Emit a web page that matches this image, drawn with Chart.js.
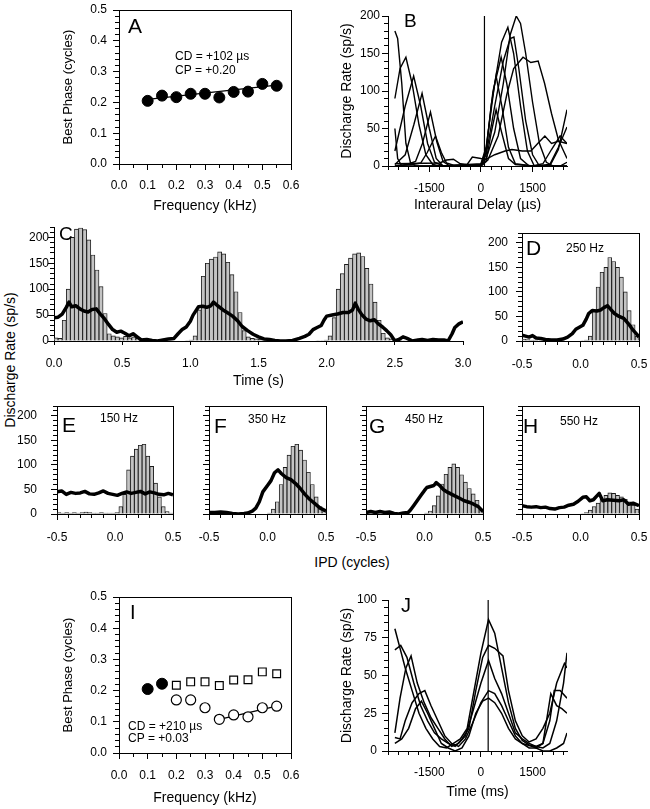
<!DOCTYPE html>
<html>
<head>
<meta charset="utf-8">
<title>Best phase and IPD tuning</title>
<script src="https://cdn.jsdelivr.net/npm/chart.js@4.4.1/dist/chart.umd.min.js"></script>
<style>
  html, body { margin: 0; padding: 0; background: #fff; }
  body { position: relative; width: 650px; height: 809px; overflow: hidden;
         font-family: "Liberation Sans", Arial, Helvetica, sans-serif; color: #000; }
  canvas { position: absolute; }
  .shared { position: absolute; font-size: 14px; white-space: nowrap; transform: translate(-50%, -50%); }
  .vertical { transform: translate(-50%, -50%) rotate(-90deg); }
</style>
</head>
<body>
<div class="shared vertical" style="left:10px; top:360px">Discharge Rate (sp/s)</div>
<div class="shared" style="left:352px; top:562px">IPD (cycles)</div>
<script>
// ---------- data ----------

// A and I: best phase vs frequency
const freqKHz = [0.1, 0.15, 0.2, 0.25, 0.3, 0.35, 0.4, 0.45, 0.5, 0.55];
const bestPhaseA = [0.205, 0.222, 0.217, 0.228, 0.228, 0.216, 0.234, 0.235, 0.26, 0.254];
const fitA = [[0.1, 0.21], [0.55, 0.256]];

const freqLowI = [0.1, 0.15];
const phaseFilledI = [0.205, 0.222];
const freqHighI = [0.2, 0.25, 0.3, 0.35, 0.4, 0.45, 0.5, 0.55];
const phaseSquaresI = [0.217, 0.228, 0.228, 0.216, 0.234, 0.235, 0.26, 0.254];
const phaseCirclesI = [0.17, 0.17, 0.145, 0.108, 0.122, 0.116, 0.145, 0.15];
const fitI = [[0.35, 0.108], [0.55, 0.15]];

// B: ITD curves (delay in us, rate in sp/s)
const b1 = [[-2500,0],[-2000,2],[-1750,4],[-1560,18],[-1320,40],[-1150,18],[-1000,4],[-800,1],[-500,0],[0,0],[150,6],[300,45],[440,75],[600,45],[800,10],[1000,2],[1500,0],[1800,3],[2050,22],[2300,40],[2500,30]];
const b2 = [[-2500,0],[-2150,2],[-1900,6],[-1700,30],[-1466,72],[-1280,32],[-1100,6],[-900,0],[0,0],[150,18],[300,82],[440,120],[600,82],[800,25],[1000,3],[1500,0],[2000,2],[2250,25],[2500,52]];
const b3 = [[-2500,2],[-2200,15],[-1950,55],[-1710,97],[-1500,50],[-1300,10],[-1100,0],[0,2],[150,22],[350,100],[586,145],[750,110],[950,50],[1150,10],[1400,0],[2000,0],[2250,22],[2500,75]];
const b4 = [[-2500,20],[-2200,80],[-1955,120],[-1750,80],[-1550,30],[-1350,5],[-1100,0],[0,3],[150,25],[400,110],[600,165],[782,185],[950,150],[1150,80],[1350,20],[1550,0],[2300,0],[2500,5]];
const b5 = [[-2500,90],[-2350,130],[-2180,145],[-2000,110],[-1800,55],[-1600,15],[-1400,2],[-1200,0],[0,2],[150,15],[400,80],[650,140],[850,170],[958,172],[1100,130],[1300,60],[1500,15],[1700,0],[2500,0]];
const b6 = [[-2500,180],[-2420,170],[-2300,110],[-2180,30],[-2050,5],[-1900,0],[0,0],[150,10],[400,45],[650,110],[850,175],[1026,200],[1150,190],[1300,150],[1500,85],[1700,30],[1900,5],[2100,0],[2500,0]];
const b7 = [[-2500,50],[-2420,10],[-2300,0],[0,0],[200,8],[500,40],[750,95],[950,130],[1222,145],[1450,138],[1662,140],[1850,110],[2050,70],[2250,35],[2400,20],[2500,10]];
const b8 = [[-2500,3],[-1200,4],[-1000,8],[-800,9],[-600,3],[-400,2],[-250,12],[0,10],[150,9],[400,15],[700,20],[900,22],[1200,20],[1450,20],[1650,30],[1857,40],[2050,30],[2250,33],[2500,30]];
const curvesB = [b1, b2, b3, b4, b5, b6, b7, b8];
const bestDelayB = 102;

// C: binaural beat response, histogram (0.03 s bins) and smoothed rate
const binWidthC = 0.03;
const countsC = [6,5,40,100,200,216,218,215,195,166,137,105,53,14,10,8,6,9,6,8,
                 5,3,2,1,1,0,0,0,1,0,0,0,1,2,10,60,125,150,158,162,
                 172,168,152,128,95,55,20,8,5,4,3,2,1,1,0,0,0,0,1,0,
                 0,0,0,0,1,1,2,10,45,100,130,148,160,168,170,163,140,110,75,40,
                 15,6,4,3,2,1,1,0,0,0,0,1,0,0,0,0,0,0,0,0];
const rateC = [[0,45],[0.03,46],[0.06,52],[0.09,65],[0.11,75],[0.13,66],[0.16,68],[0.19,62],[0.22,58],[0.25,56],
               [0.28,61],[0.31,62],[0.34,52],[0.37,43],[0.4,32],[0.43,22],[0.46,17],[0.49,19],[0.52,15],[0.55,10],
               [0.58,14],[0.61,8],[0.64,2],[0.68,3],[0.72,1],[0.76,0],[0.8,2],[0.84,4],[0.88,5],[0.91,14],
               [0.94,22],[0.97,27],[1.0,38],[1.02,50],[1.06,66],[1.09,67],[1.12,65],[1.15,68],[1.17,75],[1.2,68],
               [1.24,60],[1.27,55],[1.31,48],[1.35,38],[1.38,28],[1.42,20],[1.46,13],[1.5,8],[1.54,4],[1.58,3],
               [1.62,1],[1.66,0],[1.7,0],[1.75,1],[1.8,5],[1.84,9],[1.87,13],[1.9,22],[1.93,26],[1.96,30],
               [1.98,40],[2.0,48],[2.04,50],[2.08,52],[2.12,55],[2.16,55],[2.19,60],[2.21,73],[2.23,62],[2.26,50],
               [2.29,42],[2.32,39],[2.35,41],[2.38,33],[2.41,27],[2.44,20],[2.47,12],[2.5,0],[2.53,3],[2.56,8],
               [2.59,5],[2.63,0],[2.67,2],[2.7,3],[2.74,1],[2.78,3],[2.82,2],[2.86,2],[2.89,0],[2.92,14],
               [2.94,26],[2.97,33],[3.0,37]];

// D-H: period histograms (1/30 cycle bins) and static-IPD rate curves
const binWidthIPD = 1 / 30;
const countsD = [4,3,2,2,1,1,0,0,0,0,0,0,0,0,0,1,2,10,60,110,140,150,170,162,150,130,100,62,33,10];
const rateD = [[-0.5,12],[-0.47,10],[-0.44,8],[-0.41,11],[-0.38,6],[-0.34,5],[-0.3,3],[-0.25,2],[-0.2,2],[-0.15,4],
               [-0.11,8],[-0.07,15],[-0.04,24],[-0.01,28],[0.02,32],[0.05,45],[0.07,56],[0.1,62],[0.14,61],[0.17,63],
               [0.2,68],[0.23,72],[0.26,64],[0.29,56],[0.33,50],[0.37,46],[0.41,35],[0.45,22],[0.48,14],[0.5,8]];
const countsE = [3,2,3,2,3,2,3,4,3,2,2,3,2,2,2,3,15,40,90,118,132,140,142,118,97,63,35,15,5,2];
const rateE = [[-0.5,45],[-0.46,47],[-0.42,40],[-0.38,44],[-0.34,42],[-0.3,43],[-0.26,46],[-0.22,41],[-0.18,40],[-0.14,43],
               [-0.1,47],[-0.06,42],[-0.02,40],[0.02,38],[0.06,42],[0.1,45],[0.14,42],[0.18,44],[0.22,46],[0.26,41],
               [0.3,45],[0.34,43],[0.38,40],[0.42,39],[0.46,42],[0.5,39]];
const countsF = [3,3,2,2,1,1,0,0,0,0,0,0,0,0,0,2,10,25,60,95,120,138,142,130,110,85,60,35,15,5];
const rateF = [[-0.5,3],[-0.45,3],[-0.4,4],[-0.35,3],[-0.3,1],[-0.25,0],[-0.2,1],[-0.17,2],[-0.13,6],[-0.1,12],
               [-0.07,25],[-0.04,45],[0,58],[0.03,68],[0.06,84],[0.09,90],[0.12,82],[0.16,74],[0.2,70],[0.24,62],
               [0.28,52],[0.32,40],[0.36,30],[0.4,22],[0.45,12],[0.5,6]];
const countsG = [2,1,1,1,0,0,0,0,0,0,0,0,0,0,0,2,6,17,37,61,81,95,102,95,80,65,52,41,28,10];
const rateG = [[-0.5,3],[-0.46,5],[-0.42,3],[-0.38,5],[-0.34,3],[-0.3,4],[-0.26,1],[-0.22,0],[-0.18,2],[-0.14,3],
               [-0.12,8],[-0.09,18],[-0.06,28],[-0.03,38],[0,48],[0.02,54],[0.05,56],[0.08,58],[0.1,64],[0.13,58],
               [0.16,50],[0.2,44],[0.25,38],[0.3,32],[0.34,27],[0.38,24],[0.42,20],[0.46,15],[0.5,5]];
const countsH = [1,1,0,0,0,0,0,0,0,0,0,0,0,0,0,1,3,8,15,22,30,38,43,42,38,35,30,25,18,10];
const rateH = [[-0.5,17],[-0.46,15],[-0.42,14],[-0.38,15],[-0.34,13],[-0.3,14],[-0.26,11],[-0.22,10],[-0.18,13],[-0.14,14],
               [-0.1,18],[-0.06,20],[-0.02,26],[0.02,34],[0.05,35],[0.08,27],[0.11,29],[0.14,37],[0.16,42],[0.19,27],
               [0.23,29],[0.28,28],[0.33,27],[0.37,29],[0.41,20],[0.45,22],[0.5,17]];

// J: ITD curves
const j1 = [[-2500,81],[-2350,68],[-2200,55],[-2000,40],[-1800,25],[-1600,15],[-1400,8],[-1200,3],[-1000,2],[-800,5],[-600,8],[-400,15],[-200,40],[0,65],[220,87],[400,78],[600,55],[800,32],[1000,15],[1200,7],[1400,4],[1600,3],[1800,2],[2000,5],[2200,20],[2400,45],[2500,65]];
const j2 = [[-2500,67],[-2330,70],[-2150,62],[-1950,45],[-1750,30],[-1550,20],[-1350,12],[-1150,8],[-950,5],[-750,3],[-550,8],[-350,15],[-150,40],[50,62],[220,70],[400,68],[640,63],[800,40],[1000,20],[1200,10],[1400,6],[1600,8],[1800,15],[2000,25],[2200,45],[2425,58],[2500,55]];
const j3 = [[-2500,12],[-2350,35],[-2180,55],[-2030,63],[-1850,45],[-1650,32],[-1450,22],[-1250,15],[-1050,8],[-850,3],[-650,5],[-450,10],[-250,25],[0,45],[220,60],[400,48],[600,38],[800,25],[1000,12],[1200,8],[1400,5],[1600,3],[1800,5],[2000,20],[2130,40],[2300,40],[2500,35]];
const j4 = [[-2500,9],[-2350,8],[-2200,20],[-2000,32],[-1800,38],[-1630,40],[-1450,30],[-1250,20],[-1050,10],[-850,5],[-650,3],[-450,8],[-250,18],[0,32],[220,40],[400,38],[600,30],[800,20],[1000,10],[1200,5],[1400,2],[1600,2],[1800,5],[2030,38],[2200,30],[2350,28],[2500,25]];
const j5 = [[-2500,5],[-2300,8],[-2100,15],[-1900,28],[-1730,33],[-1550,25],[-1350,15],[-1150,5],[-950,2],[-750,0],[-550,2],[-350,10],[-150,25],[50,33],[220,35],[400,32],[600,25],[800,15],[1000,8],[1200,5],[1500,3],[1800,0],[2000,0],[2200,2],[2400,5],[2500,12]];
const curvesJ = [j1, j2, j3, j4, j5];
const bestDelayJ = 210;

// tick labels (also where the longer major ticks go)
const freqTicks = [0, 0.1, 0.2, 0.3, 0.4, 0.5, 0.6];
const phaseTicks = [0, 0.1, 0.2, 0.3, 0.4, 0.5];
const delayTicks = [-1500, 0, 1500];
const rateTicks200 = [0, 50, 100, 150, 200];
const rateTicks100 = [0, 25, 50, 75, 100];
const timeTicksC = [0, 0.5, 1, 1.5, 2, 2.5, 3];
const ipdTicks = [-0.5, 0, 0.5];

// ---------- helpers ----------
const FONT = '"Liberation Sans", Arial, Helvetica, sans-serif';
const MINOR_TICK = 4;
const MAJOR_TICK = 6;
Chart.defaults.font.family = FONT;
Chart.defaults.color = '#000';

function pts(arr) {
  return arr.map(p => ({x: p[0], y: p[1]}));
}

function histData(counts, start, width) {
  return counts.map((v, i) => ({x: start + (i + 0.5) * width, y: v}));
}

function axis(o) {
  const horiz = o.pos === 'x';
  return {
    type: 'linear',
    position: horiz ? 'bottom' : 'left',
    min: o.min,
    max: o.max,
    offset: false,
    border: {display: true, color: '#000', width: 1},
    grid: {offset: false, drawOnChartArea: false, drawTicks: true, tickLength: MINOR_TICK, tickColor: '#000', tickWidth: 1},
    ticks: {
      stepSize: o.step, autoSkip: false, includeBounds: false, maxRotation: 0, minRotation: 0,
      padding: o.pad, color: '#000', font: {size: 12},
      callback: v => (o.labels.some(l => Math.abs(l - v) < 1e-6) ? Number(v).toFixed(o.dec) : '')
    },
    title: o.title
      ? {display: true, text: o.title, color: '#000', font: {size: o.titleSize || 14}, padding: 0}
      : {display: false},
    afterFit: s => {
      if (horiz) s.height = o.size;
      else s.width = o.size;
    }
  };
}

// empty top / right axes that only draw their border line: closes the box
function frameAxis(pos, min, max) {
  const horiz = pos === 'top';
  return {
    type: 'linear', position: pos, min: min, max: max, offset: false,
    border: {display: true, color: '#000', width: 1},
    grid: {display: true, offset: false, drawOnChartArea: false, drawTicks: false},
    ticks: {display: false},
    afterFit: s => {
      if (horiz) s.height = 0;
      else s.width = 0;
    }
  };
}

// longer major tick marks, panel letters and annotations
function drawExtras(chart, extras, left, top) {
  const ctx = chart.ctx;
  const a = chart.chartArea;
  ctx.save();
  ctx.fillStyle = '#000';
  (extras.xMajor || []).forEach(v => {
    const px = Math.round(chart.scales.x.getPixelForValue(v) - 0.5);
    ctx.fillRect(px, Math.round(a.bottom), 1, MAJOR_TICK);
  });
  (extras.yMajor || []).forEach(v => {
    const py = Math.round(chart.scales.y.getPixelForValue(v) - 0.5);
    ctx.fillRect(Math.round(a.left) - MAJOR_TICK, py, MAJOR_TICK, 1);
  });
  ctx.textAlign = 'left';
  ctx.textBaseline = 'alphabetic';
  (extras.notes || []).forEach(n => {
    ctx.font = n.size + 'px ' + FONT;
    ctx.fillText(n.text, n.x - left, n.y - top);
  });
  ctx.restore();
}

function makePanel(g, config, extras) {
  const c = document.createElement('canvas');
  const left = g.plotL - g.yW;
  const top = g.plotT - g.padT;
  const w = g.yW + g.plotW + g.padR;
  const h = g.padT + g.plotH + g.xH;
  c.width = w;
  c.height = h;
  c.style.left = left + 'px';
  c.style.top = top + 'px';
  c.style.width = w + 'px';
  c.style.height = h + 'px';
  document.body.appendChild(c);

  config.options = Object.assign({
    responsive: false,
    animation: false,
    devicePixelRatio: 1,
    events: [],
    layout: {padding: {top: g.padT, right: g.padR, left: 0, bottom: 0}}
  }, config.options);
  config.options.plugins = {legend: {display: false}, tooltip: {enabled: false}};
  config.plugins = [{id: 'extras', afterDraw: chart => drawExtras(chart, extras, left, top)}];
  return new Chart(c, config);
}

function curveSet(curves, width) {
  return curves.map(cv => ({
    type: 'line', data: pts(cv), borderColor: '#000', borderWidth: width,
    pointRadius: 0, tension: 0, fill: false, order: 0
  }));
}

function thickLine(data) {
  return {type: 'line', data: pts(data), borderColor: '#000', borderWidth: 3.5,
          borderJoinStyle: 'round', pointRadius: 0, tension: 0, fill: false, order: 0};
}

function histBars(data) {
  return {type: 'bar', data: data, backgroundColor: '#c4c4c4', borderColor: '#1a1a1a',
          borderWidth: 0.9, barPercentage: 1, categoryPercentage: 1, order: 1};
}

// ---------- layout of the panels (plot area in page pixels) ----------
const geoA = {plotL: 119, plotT: 10, plotW: 172, plotH: 154, yW: 58, xH: 51, padT: 24, padR: 26};
const geoB = {plotL: 388, plotT: 16, plotW: 179, plotH: 150, yW: 49, xH: 48, padT: 24, padR: 26};
const geoC = {plotL: 54, plotT: 227, plotW: 409, plotH: 114, yW: 50, xH: 49, padT: 24, padR: 26};
const geoD = {plotL: 522, plotT: 233, plotW: 117, plotH: 108, yW: 50, xH: 30, padT: 24, padR: 26, labelPad: 10};
const geoE = {plotL: 57, plotT: 406, plotW: 116, plotH: 108, yW: 45, xH: 30, padT: 24, padR: 26, labelPad: 16};
const geoF = {plotL: 209, plotT: 406, plotW: 117, plotH: 108, yW: 30, xH: 30, padT: 24, padR: 26};
const geoG = {plotL: 366, plotT: 406, plotW: 117, plotH: 108, yW: 30, xH: 30, padT: 24, padR: 26};
const geoH = {plotL: 522, plotT: 406, plotW: 117, plotH: 108, yW: 30, xH: 30, padT: 24, padR: 26};
const geoI = {plotL: 119, plotT: 597, plotW: 172, plotH: 156, yW: 58, xH: 54, padT: 24, padR: 26};
const geoJ = {plotL: 388, plotT: 600, plotW: 179, plotH: 151, yW: 49, xH: 50, padT: 24, padR: 26};

// ---------- A ----------
makePanel(geoA, {
  type: 'scatter',
  data: {datasets: [
    {data: freqKHz.map((f, i) => ({x: f, y: bestPhaseA[i]})), pointRadius: 5.5,
     pointBackgroundColor: '#000', pointBorderColor: '#000', order: 0},
    {type: 'line', data: pts(fitA), showLine: true, borderColor: '#000', borderWidth: 1.2, pointRadius: 0, order: 1}
  ]},
  options: {scales: {
    x: axis({pos: 'x', min: 0, max: 0.6, step: 0.05, labels: freqTicks, dec: 1, pad: 10,
             title: 'Frequency (kHz)', size: geoA.xH}),
    y: axis({pos: 'y', min: 0, max: 0.5, step: 0.02, labels: phaseTicks, dec: 1, pad: 8,
             title: 'Best Phase (cycles)', titleSize: 13, size: geoA.yW}),
    x2: frameAxis('top', 0, 0.6),
    y2: frameAxis('right', 0, 0.5)
  }}
}, {xMajor: freqTicks, yMajor: phaseTicks, notes: [
  {text: 'A', x: 128, y: 33, size: 21},
  {text: 'CD = +102 \u00b5s', x: 175, y: 60, size: 12},
  {text: 'CP = +0.20', x: 175, y: 74, size: 12}
]});

// ---------- B ----------
makePanel(geoB, {
  type: 'line',
  data: {datasets: curveSet(curvesB, 1.4).concat([
    {type: 'line', data: pts([[bestDelayB, 0], [bestDelayB, 200]]), borderColor: '#000', borderWidth: 1.2, pointRadius: 0}
  ])},
  options: {scales: {
    x: axis({pos: 'x', min: -2700, max: 2500, step: 300, labels: delayTicks, dec: 0, pad: 11,
             title: 'Interaural Delay (\u00b5s)', size: geoB.xH}),
    y: axis({pos: 'y', min: 0, max: 200, step: 10, labels: rateTicks200, dec: 0, pad: 4,
             title: 'Discharge Rate (sp/s)', size: geoB.yW})
  }}
}, {xMajor: delayTicks, yMajor: rateTicks200, notes: [{text: 'B', x: 404, y: 27, size: 19}]});

// ---------- C ----------
makePanel(geoC, {
  type: 'bar',
  data: {datasets: [thickLine(rateC), histBars(histData(countsC, 0, binWidthC))]},
  options: {scales: {
    x: axis({pos: 'x', min: 0, max: 3, step: 0.5, labels: timeTicksC, dec: 1, pad: 11,
             title: 'Time (s)', size: geoC.xH}),
    y: axis({pos: 'y', min: 0, max: 220, step: 10, labels: rateTicks200, dec: 0, pad: 1, size: geoC.yW})
  }}
}, {yMajor: rateTicks200, notes: [{text: 'C', x: 59, y: 240, size: 19}]});

// ---------- D-H ----------
function ipdPanel(geo, counts, rate, showLabels, notes) {
  makePanel(geo, {
    type: 'bar',
    data: {datasets: [thickLine(rate), histBars(histData(counts, -0.5, binWidthIPD))]},
    options: {scales: {
      x: axis({pos: 'x', min: -0.5, max: 0.5, step: 0.1, labels: ipdTicks, dec: 1, pad: 12, size: geo.xH}),
      y: axis({pos: 'y', min: 0, max: 220, step: 10, labels: showLabels ? rateTicks200 : [], dec: 0,
               pad: showLabels ? geo.labelPad : 2, size: geo.yW}),
      x2: frameAxis('top', -0.5, 0.5),
      y2: frameAxis('right', 0, 220)
    }}
  }, {xMajor: ipdTicks, yMajor: rateTicks200, notes: notes});
}

ipdPanel(geoD, countsD, rateD, true, [{text: 'D', x: 526, y: 255, size: 21}, {text: '250 Hz', x: 566, y: 252, size: 12}]);
ipdPanel(geoE, countsE, rateE, true, [{text: 'E', x: 62, y: 432, size: 21}, {text: '150 Hz', x: 100, y: 422, size: 12}]);
ipdPanel(geoF, countsF, rateF, false, [{text: 'F', x: 214, y: 433, size: 21}, {text: '350 Hz', x: 248, y: 423, size: 12}]);
ipdPanel(geoG, countsG, rateG, false, [{text: 'G', x: 369, y: 433, size: 21}, {text: '450 Hz', x: 405, y: 423, size: 12}]);
ipdPanel(geoH, countsH, rateH, false, [{text: 'H', x: 523, y: 433, size: 21}, {text: '550 Hz', x: 560, y: 425, size: 12}]);

// ---------- I ----------
makePanel(geoI, {
  type: 'scatter',
  data: {datasets: [
    {data: freqLowI.map((f, i) => ({x: f, y: phaseFilledI[i]})), pointRadius: 5.5,
     pointBackgroundColor: '#000', pointBorderColor: '#000', order: 0},
    {data: freqHighI.map((f, i) => ({x: f, y: phaseSquaresI[i]})), pointStyle: 'rect', pointRadius: 5.5,
     pointBackgroundColor: '#fff', pointBorderColor: '#000', pointBorderWidth: 1.2, order: 0},
    {data: freqHighI.map((f, i) => ({x: f, y: phaseCirclesI[i]})), pointRadius: 5,
     pointBackgroundColor: '#fff', pointBorderColor: '#000', pointBorderWidth: 1.2, order: 1},
    {type: 'line', data: pts(fitI), showLine: true, borderColor: '#000', borderWidth: 1.2, pointRadius: 0, order: 2}
  ]},
  options: {scales: {
    x: axis({pos: 'x', min: 0, max: 0.6, step: 0.05, labels: freqTicks, dec: 1, pad: 11,
             title: 'Frequency (kHz)', size: geoI.xH}),
    y: axis({pos: 'y', min: 0, max: 0.5, step: 0.02, labels: phaseTicks, dec: 1, pad: 8,
             title: 'Best Phase (cycles)', titleSize: 13, size: geoI.yW}),
    x2: frameAxis('top', 0, 0.6),
    y2: frameAxis('right', 0, 0.5)
  }}
}, {xMajor: freqTicks, yMajor: phaseTicks, notes: [
  {text: 'I', x: 130, y: 619, size: 20},
  {text: 'CD = +210 \u00b5s', x: 128, y: 730, size: 12},
  {text: 'CP = +0.03', x: 128, y: 742, size: 12}
]});

// ---------- J ----------
makePanel(geoJ, {
  type: 'line',
  data: {datasets: curveSet(curvesJ, 1.5).concat([
    {type: 'line', data: pts([[bestDelayJ, 0], [bestDelayJ, 100]]), borderColor: '#000', borderWidth: 1.2, pointRadius: 0}
  ])},
  options: {scales: {
    x: axis({pos: 'x', min: -2700, max: 2500, step: 300, labels: delayTicks, dec: 0, pad: 10,
             title: 'Time (ms)', size: geoJ.xH}),
    y: axis({pos: 'y', min: 0, max: 100, step: 5, labels: rateTicks100, dec: 0, pad: 7,
             title: 'Discharge Rate (sp/s)', size: geoJ.yW})
  }}
}, {xMajor: delayTicks, yMajor: rateTicks100, notes: [{text: 'J', x: 401, y: 612, size: 20}]});
</script>
</body>
</html>
